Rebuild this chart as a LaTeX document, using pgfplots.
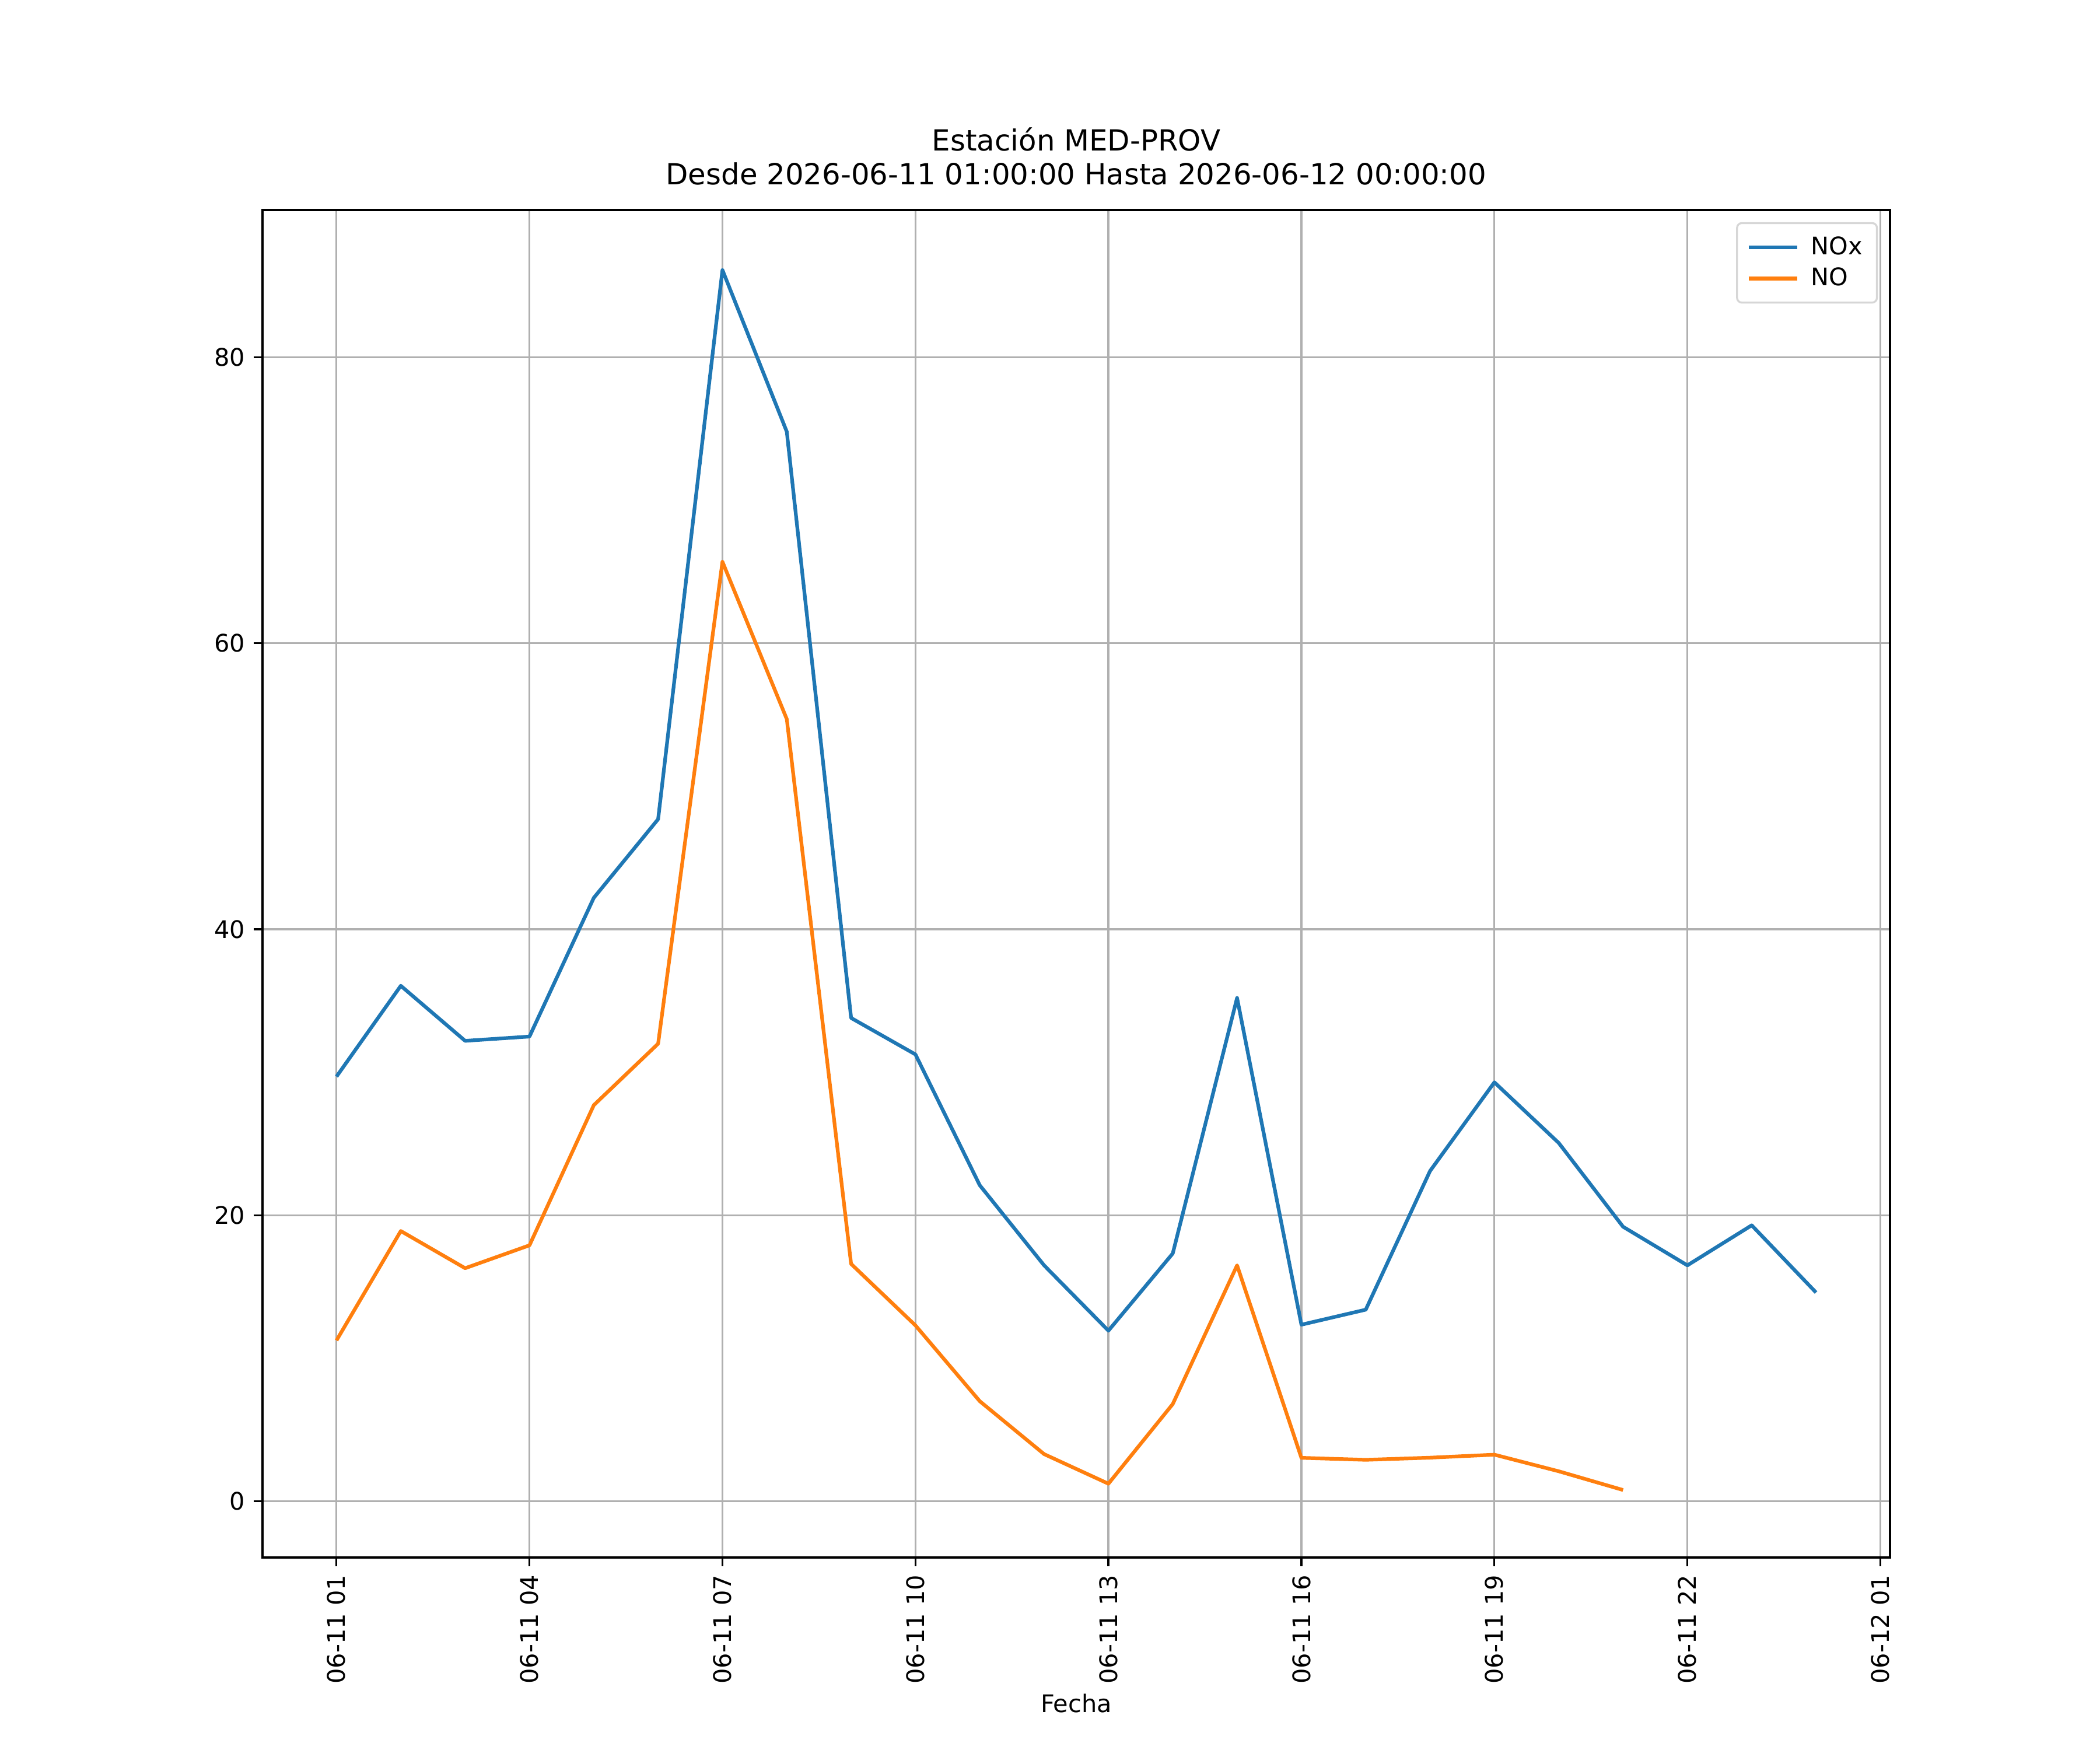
\documentclass[border=0pt]{standalone}
\usepackage{fontspec}
\setmainfont{DejaVu Sans}
\usepackage{pgfplots}
\pgfplotsset{compat=1.18}
\definecolor{c1}{HTML}{1F77B4}
\definecolor{c2}{HTML}{FF7F0E}
\definecolor{gridc}{HTML}{B0B0B0}
\definecolor{legc}{HTML}{D6D6D6}
\begin{document}
\begin{tikzpicture}
\path[use as bounding box] (0,0) rectangle (12in,10in);
\begin{axis}[
  at={(1.5in,1.1in)}, anchor=south west,
  scale only axis, width=9.3in, height=7.7in,
  xmin=-1.15, xmax=24.15, ymin=-3.93, ymax=90.3,
  xtick={0,3,6,9,12,15,18,21,24},
  xticklabels={06-11 01,06-11 04,06-11 07,06-11 10,06-11 13,06-11 16,06-11 19,06-11 22,06-12 01},
  ytick={0,20,40,60,80},
  /pgf/number format/assume math mode=true,
  tick label style={font=\fontsize{10}{12}\selectfont},
  xticklabel style={rotate=90, anchor=east, inner sep=0pt, xshift=0pt},
  yticklabel style={inner sep=0pt},
  xticklabel shift=3.5pt, yticklabel shift=3.5pt,
  tick align=outside, major tick length=3.5pt,
  every tick/.style={black, line width=0.8pt},
  xtick pos=bottom, ytick pos=left,
  axis line style={line width=0.8pt},
  grid=major,
  major grid style={gridc, line width=0.8pt},
  xlabel={Fecha},
  xlabel style={font=\fontsize{10}{12}\selectfont, inner sep=0pt, yshift=-4pt},
  title={Estación MED-PROV\\Desde 2026-06-11 01:00:00 Hasta 2026-06-12 00:00:00},
  title style={font=\fontsize{12}{14}\selectfont, align=center, at={(0.5,1)}, anchor=south, inner sep=0pt, yshift=4pt},
  legend cell align=left,
  legend image code/.code={\draw[line width=1.5pt] (0pt,0pt) -- (20pt,0pt); \path (23pt,0pt);},
  legend style={font=\fontsize{10}{12}\selectfont, draw=legc, line width=0.8pt, rounded corners=2pt,
    fill=white, at={(1,1)}, xshift=-5pt, yshift=-5pt, anchor=north east,
    inner xsep=4pt, inner ysep=3.5pt, row sep=0pt, nodes={inner sep=2pt}},
]
\addplot[c1, line width=1.5pt, line join=round] coordinates {
(0,29.7) (1,36.05) (2,32.2) (3,32.5) (4,42.2) (5,47.7) (6,86.1) (7,74.8)
(8,33.8) (9,31.25) (10,22.1) (11,16.5) (12,11.93) (13,17.33) (14,35.2) (15,12.35)
(16,13.4) (17,23.1) (18,29.3) (19,25.06) (20,19.2) (21,16.5) (22,19.3) (23,14.6)
};
\addlegendentry{NOx}
\addplot[c2, line width=1.5pt, line join=round] coordinates {
(0,11.25) (1,18.9) (2,16.3) (3,17.9) (4,27.7) (5,32.0) (6,65.7) (7,54.7)
(8,16.6) (9,12.3) (10,7.0) (11,3.3) (12,1.23) (13,6.8) (14,16.5) (15,3.04)
(16,2.9) (17,3.05) (18,3.26) (19,2.1) (20,0.79)
};
\addlegendentry{NO}
\end{axis}
\end{tikzpicture}
\end{document}
